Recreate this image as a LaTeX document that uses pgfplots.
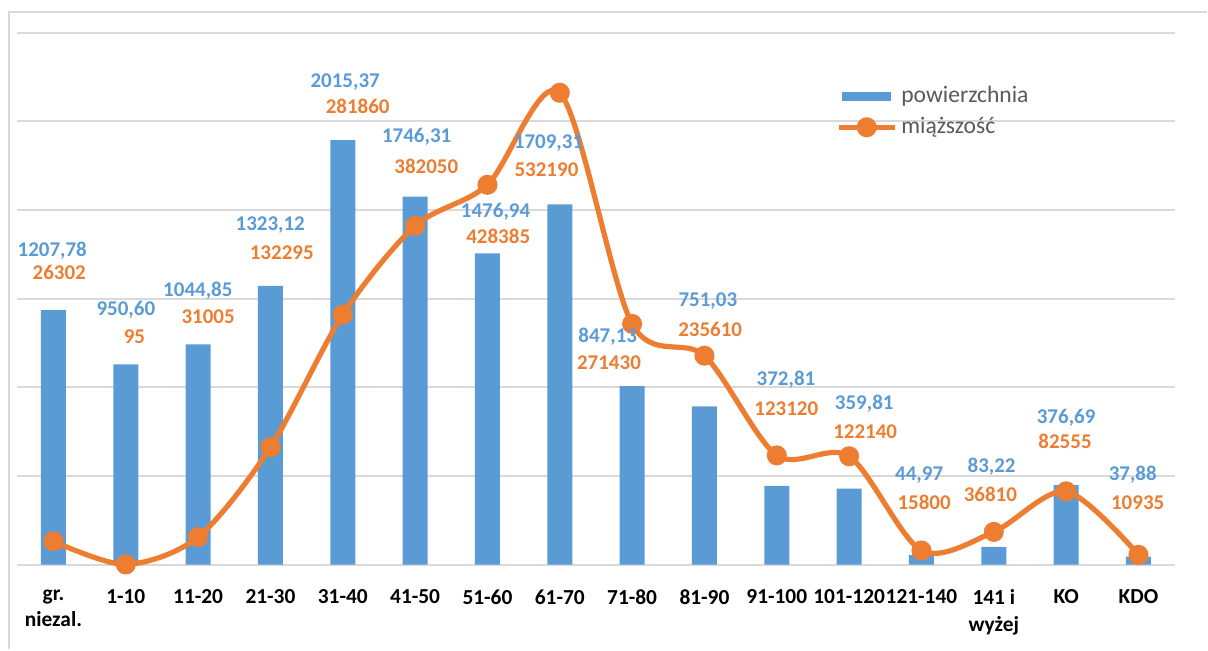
\documentclass[border=0pt]{standalone}
\usepackage{fontspec}
\setmainfont{Carlito}
\usepackage{pgfplots}
\pgfplotsset{compat=1.18}
\usepackage{pgfplotstable}
\definecolor{cblue}{HTML}{5B9BD5}
\definecolor{corange}{HTML}{ED7D31}
\definecolor{cgrid}{HTML}{D9D9D9}
\definecolor{ctext}{HTML}{595959}

% powierzchnia
\pgfplotstableread{
x y
0 1207.78
1 950.60
2 1044.85
3 1323.12
4 2015.37
5 1746.31
6 1476.94
7 1709.31
8 847.13
9 751.03
10 372.81
11 359.81
12 44.97
13 83.22
14 376.69
15 37.88
}\powtab

% miazszosc
\pgfplotstableread{
x y
0 26302
1 95
2 31005
3 132295
4 281860
5 382050
6 428385
7 532190
8 271430
9 235610
10 123120
11 122140
12 15800
13 36810
14 82555
15 10935
}\miaztab

% label positions (secondary scale)
\pgfplotstableread{
x y lab
-0.017 354273 1207,78
1.001 287431 950,60
1.996 309185 1044,85
2.997 383241 1323,12
4.033 544766 2015,37
5.021 482771 1746,31
6.112 398233 1476,94
6.844 475332 1709,31
7.663 257335 847,13
9.047 296786 751,03
10.127 208528 372,81
11.209 181476 359,81
11.968 101446 44,97
12.970 110125 83,22
14.0 165357 376,69
14.921 101446 37,88
}\bluelab

\pgfplotstableread{
x y lab
0.080 329475 26302
1.119 256659 95
2.138 279879 31005
3.156 352018 132295
4.206 516587 281860
5.155 448956 382050
6.149 370053 428385
6.816 445236 532190
7.680 227352 271430
9.079 265676 235610
10.131 175502 123120
11.222 150253 122140
12.037 70223 15800
12.953 78903 36810
13.985 138981 82555
14.989 69547 10935
}\orangelab

\begin{document}
\begin{tikzpicture}
\path (0,0) rectangle (604pt,325pt);
\draw[cgrid, line width=1pt] (4.5pt,0pt) -- (4.5pt,319pt) -- (604pt,319pt);
\begin{axis}[
  at={(8.65pt,42.5pt)}, anchor=south west,
  scale only axis, width=579.15pt, height=266.15pt,
  xmin=-0.5, xmax=15.5, ymin=0, ymax=2525,
  xtick={0,...,15},
  xticklabels={{gr.\\niezal.},1-10,11-20,21-30,31-40,41-50,51-60,61-70,71-80,81-90,91-100,101-120,121-140,{141 i\\wyżej},KO,KDO},
  ytick={0,420.8333,841.6667,1262.5,1683.3333,2104.1667,2525},
  yticklabels={},
  ymajorgrids, major grid style={cgrid, line width=1pt},
  axis line style={draw=none}, tick style={draw=none},
  xticklabel style={font=\bfseries\fontsize{10.7}{13.4}\selectfont, align=center, anchor=north, yshift=-9pt},
  clip=false,
]
\addplot[ybar, bar width=12.5pt, fill=cblue, draw=none] table[x=x,y=y]{\powtab};
\end{axis}
\begin{axis}[
  at={(8.65pt,42.5pt)}, anchor=south west,
  scale only axis, width=579.15pt, height=266.15pt,
  xmin=-0.5, xmax=15.5, ymin=0, ymax=600000,
  hide axis, clip=false,
  legend style={at={(0.702,0.915)}, anchor=north west, draw=none, fill=none,
    font=\fontsize{11.8}{14}\selectfont, text=ctext, row sep=2pt,
    cells={anchor=west}},
]
\addlegendimage{legend image code/.code={\fill[cblue] (2pt,-2pt) rectangle (26pt,2pt);}}
\addlegendentry{powierzchnia}
\addplot[corange, line width=2.6pt, smooth, mark=*, mark size=3.7pt,
  mark options={fill=corange, draw=none},
  legend image code/.code={\draw[corange, line width=2.6pt] (0pt,0pt) -- (28pt,0pt); \fill[corange] (14pt,0pt) circle (3.7pt);}]
  table[x=x,y=y]{\miaztab};
\addlegendentry{miąższość}
\addplot[draw=none, mark=none, nodes near coords, point meta=explicit symbolic,
  nodes near coords align=center,
  every node near coord/.append style={text=cblue, font=\bfseries\fontsize{10.5}{12}\selectfont}]
  table[x=x,y=y,meta=lab]{\bluelab};
\addplot[draw=none, mark=none, nodes near coords, point meta=explicit symbolic,
  nodes near coords align=center,
  every node near coord/.append style={text=corange, font=\bfseries\fontsize{10.5}{12}\selectfont}]
  table[x=x,y=y,meta=lab]{\orangelab};
\end{axis}
\end{tikzpicture}
\end{document}
